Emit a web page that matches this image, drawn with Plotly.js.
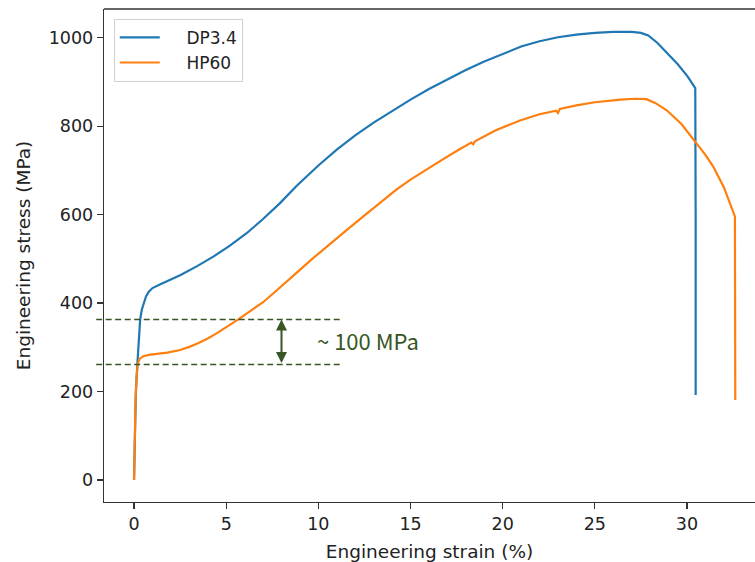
<!DOCTYPE html>
<html>
<head>
<meta charset="utf-8">
<script src="https://cdn.plot.ly/plotly-3.0.1.min.js"></script>
<style>html,body{margin:0;padding:0;background:#fff;}#chart{width:755px;height:562px;}</style>
</head>
<body>
<div id="chart"></div>
<script>
// DP3.4 engineering stress-strain
const dpStrain = [0, 0.04, 0.1, 0.18, 0.26, 0.33, 0.42, 0.51, 0.65, 0.8, 1.0, 1.4, 1.8, 2.5, 3.4, 4.3, 5.2, 6.11, 7.0, 7.92, 8.8, 9.73, 10, 11, 12, 13, 14, 15, 16, 17, 18, 19, 20, 21, 22, 23, 24, 25, 26, 27, 27.5, 27.9, 28.4, 28.95, 29.5, 30.04, 30.45, 30.47, 30.47];
const dpStress = [0, 100, 200, 262, 320, 362, 385, 399, 415, 426, 434, 442, 449, 463, 483, 505, 530, 558, 590, 626, 664, 701, 711, 747, 779, 808, 835, 860, 884, 906, 927, 946, 963, 980, 992, 1001, 1007, 1011, 1013, 1013, 1011, 1005, 988, 965, 940, 912, 886, 600, 192];
// HP60 engineering stress-strain
const hpStrain = [0, 0.03, 0.08, 0.14, 0.2, 0.3, 0.5, 0.8, 1.2, 1.8, 2.5, 3.0, 3.5, 4.0, 4.5, 5.0, 5.66, 6.3, 7.0, 7.5, 8.0, 8.83, 9.7, 10.63, 11.5, 12.44, 13.3, 14.25, 15.0, 15.52, 16.6, 17.5, 18.3, 18.4, 18.5, 19.6, 20.94, 22.0, 22.9, 23.0, 23.1, 24.0, 25.0, 26.4, 27.2, 27.8, 28.3, 28.9, 29.7, 30.44, 31.0, 31.43, 32.0, 32.6, 32.62, 32.62];
const hpStress = [0, 90, 180, 235, 262, 274, 280, 283, 285, 288, 294, 301, 310, 320, 332, 345, 363, 382, 402, 420, 439, 469, 501, 534, 564, 596, 626, 657, 679, 693, 721, 744, 763, 759, 766, 790, 813, 827, 835, 830, 839, 847, 854, 860, 862, 861, 852, 836, 805, 765, 735, 708, 662, 596, 400, 181];
const seriesNames = ['\u00a0\u00a0\u00a0\u00a0DP3.4', '\u00a0\u00a0\u00a0\u00a0HP60'];
const xTicks = [0, 5, 10, 15, 20, 25, 30];
const yTicks = [0, 200, 400, 600, 800, 1000];
const gapLevels = [261, 363];   // dashed guide lines (MPa)
const gapArrowX = 8.0;
const gapLabel = '~ 100 MPa';

const green = '#375623';
const tickFont = {family: 'DejaVu Sans', size: 17.5, color: '#222'};
const titleFont = {family: 'DejaVu Sans', size: 18.5, color: '#222'};

const traces = [
  {x: dpStrain, y: dpStress, name: seriesNames[0], type: 'scatter', mode: 'lines',
   line: {color: '#1f77b4', width: 2.2}},
  {x: hpStrain, y: hpStress, name: seriesNames[1], type: 'scatter', mode: 'lines',
   line: {color: '#ff7f0e', width: 2.2}}
];

const shapes = gapLevels.map(v => ({
  type: 'line', xref: 'paper', yref: 'y', x0: -0.012, x1: 0.366, y0: v, y1: v,
  line: {color: green, width: 1.4, dash: '6px,3.5px'}
}));
shapes.push({type: 'line', xref: 'paper', yref: 'paper', x0: 0, x1: 1, y0: 1, y1: 1,
  line: {color: '#333', width: 1.3}});

const layout = {
  width: 755, height: 562,
  margin: {l: 104, r: 0, t: 9, b: 60},
  paper_bgcolor: '#fff', plot_bgcolor: '#fff',
  showlegend: true,
  legend: {x: 0.015, y: 0.98, xanchor: 'left', yanchor: 'top',
    bgcolor: 'rgba(255,255,255,0.9)', bordercolor: '#d0d0d0', borderwidth: 1,
    font: {family: 'DejaVu Sans', size: 17, color: '#222'}, itemwidth: 40, tracegroupgap: 4},
  xaxis: {range: [-1.63, 33.69], tickvals: xTicks, ticktext: xTicks.map(String),
    showgrid: false, zeroline: false, showline: true, linecolor: '#333', linewidth: 1.3,
    ticks: 'outside', ticklen: 6, tickwidth: 1.2, tickcolor: '#333', tickfont: tickFont,
    title: {text: 'Engineering strain (%)', font: titleFont, standoff: 11}},
  yaxis: {range: [-49.7, 1064.9], tickvals: yTicks, ticktext: yTicks.map(String),
    showgrid: false, zeroline: false, showline: true, linecolor: '#333', linewidth: 1.3,
    ticks: 'outside', ticklen: 6, tickwidth: 1.2, tickcolor: '#333', tickfont: tickFont,
    title: {text: 'Engineering stress (MPa)', font: titleFont, standoff: 13}},
  shapes: shapes,
  annotations: [
    {x: gapArrowX, y: gapLevels[1], ax: gapArrowX, ay: gapLevels[0], xref: 'x', yref: 'y',
     axref: 'x', ayref: 'y', text: '', showarrow: true, arrowside: 'end+start',
     arrowhead: 2, arrowsize: 1.1, arrowwidth: 2, arrowcolor: green, standoff: 0, startstandoff: 0},
    {x: 9.82, y: 316, xref: 'x', yref: 'y', text: gapLabel, showarrow: false,
     xanchor: 'left', yanchor: 'middle',
     font: {family: 'Noto Sans CJK KR, Noto Sans', size: 22, color: green}}
  ]
};

Plotly.newPlot('chart', traces, layout, {staticPlot: true, displayModeBar: false});
</script>
</body>
</html>
